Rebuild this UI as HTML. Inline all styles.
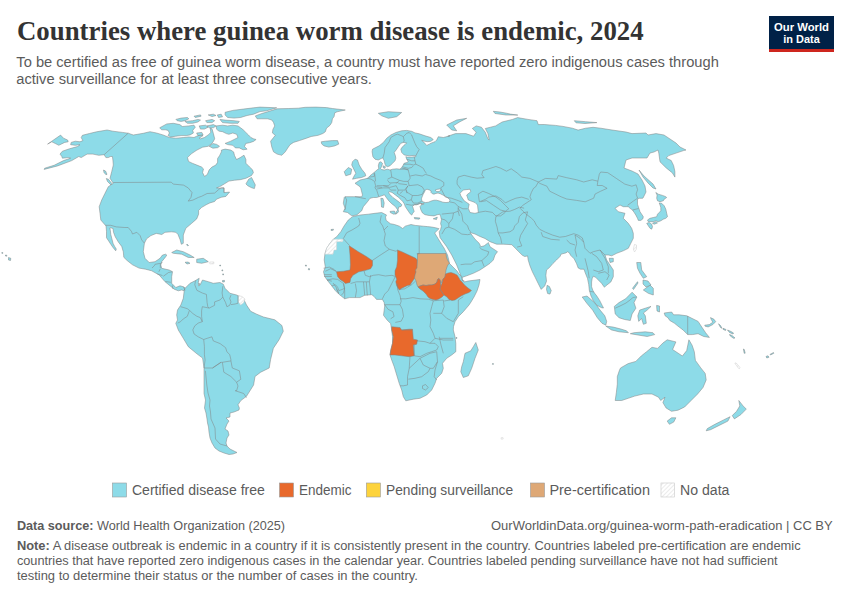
<!DOCTYPE html>
<html><head><meta charset="utf-8"><style>
html,body{margin:0;padding:0;background:#fff;}
body{width:850px;height:600px;overflow:hidden;position:relative;}
svg{position:absolute;left:0;top:0;}
</style></head><body>
<svg width="850" height="600" viewBox="0 0 850 600">
<rect width="850" height="600" fill="#fff"/>
<defs><pattern id="hatch" patternUnits="userSpaceOnUse" width="3" height="3" patternTransform="rotate(45)"><rect width="3" height="3" fill="#fff"/><rect width="1" height="3" fill="#ebebeb"/></pattern></defs>
<g fill="#8ddbe8" stroke="#808080" stroke-width="0.5" stroke-linejoin="round">
<path d="M128.2,133.2 L133.3,135.0 L143.3,133.3 L150.0,131.7 L156.5,133.0 L162.9,134.9 L169.4,137.5 L175.9,138.2 L183.6,137.5 L188.8,136.9 L194.0,137.5 L196.6,136.2 L200.5,134.9 L203.1,135.6 L199.2,138.2 L200.5,138.8 L204.4,137.5 L208.2,134.9 L210.8,132.4 L210.2,127.8 L212.1,129.1 L213.4,133.6 L214.7,138.8 L213.0,142.0 L210.5,144.5 L208.2,146.3 L202.6,147.2 L196.9,150.1 L191.3,153.8 L187.5,157.6 L188.5,161.4 L192.2,163.2 L196.9,165.1 L201.6,167.0 L203.5,168.9 L202.6,172.6 L204.5,176.4 L207.3,174.5 L209.2,169.8 L212.0,167.0 L215.8,165.1 L217.6,162.3 L217.6,158.5 L219.5,155.7 L221.4,151.9 L221.4,150.1 L225.2,149.1 L230.8,150.1 L233.6,151.9 L234.6,155.7 L236.5,159.5 L240.2,157.6 L244.0,155.2 L245.9,159.5 L245.9,163.2 L249.6,167.0 L252.5,169.8 L253.4,172.6 L251.5,175.5 L245.9,178.3 L240.2,179.7 L234.6,180.2 L228.9,181.1 L224.2,184.0 L219.5,186.8 L216.5,187.9 L221.0,188.5 L224.0,187.9 L224.0,192.6 L229.6,192.1 L225.9,196.4 L221.2,197.3 L216.5,199.2 L214.6,201.5 L209.9,202.9 L206.1,204.8 L201.4,207.6 L198.6,210.5 L198.6,214.2 L196.7,218.9 L191.7,223.3 L185.8,228.3 L183.3,235.0 L183.3,243.3 L181.3,244.3 L180.2,239.9 L178.0,234.5 L175.8,232.3 L171.5,231.8 L165.0,232.3 L161.8,234.5 L156.3,233.4 L150.9,235.6 L146.6,238.8 L144.4,243.2 L143.3,251.7 L145.0,258.3 L149.2,262.5 L155.0,261.7 L160.0,258.3 L162.5,255.0 L165.8,254.2 L166.7,255.0 L165.8,256.7 L161.7,261.7 L160.8,265.0 L161.7,268.3 L169.2,270.0 L172.5,271.7 L171.7,276.7 L171.7,283.3 L175.8,287.5 L180.0,285.8 L183.3,286.7 L185.5,288.3 L184.2,290.8 L181.7,290.0 L178.3,290.8 L174.2,289.2 L170.0,285.8 L165.0,281.7 L159.2,275.0 L151.7,270.8 L145.5,269.2 L139.0,268.1 L132.5,264.8 L127.1,260.5 L123.8,257.3 L123.3,251.8 L121.7,246.4 L118.4,242.1 L115.2,236.7 L113.5,232.3 L113.0,228.5 L110.8,227.8 L109.8,228.0 L110.3,230.2 L110.8,234.5 L111.9,238.8 L113.0,243.2 L114.6,246.4 L116.3,249.1 L115.7,250.8 L113.0,247.5 L110.8,244.3 L108.7,241.0 L106.5,237.8 L106.5,231.3 L106.0,225.8 L105.4,225.3 L100.8,220.0 L100.0,213.3 L99.2,206.7 L101.7,200.0 L105.0,193.3 L108.3,186.7 L113.3,183.3 L110.0,178.3 L111.7,171.7 L113.3,165.0 L112.9,160.0 L112.4,156.5 L110.6,156.5 L108.2,157.6 L105.9,157.6 L104.1,154.7 L98.8,155.3 L92.9,154.1 L87.1,154.1 L81.2,157.6 L78.8,156.5 L71.8,160.6 L57.6,165.9 L44.1,169.4 L44.7,168.2 L54.1,165.3 L63.5,160.6 L70.6,158.2 L68.2,157.6 L62.4,158.2 L61.8,156.5 L60.0,154.1 L62.4,151.2 L69.4,148.8 L77.6,146.5 L80.0,144.7 L75.3,145.3 L70.6,144.7 L71.2,142.4 L75.3,141.2 L80.0,141.8 L82.9,140.6 L81.2,137.6 L82.4,135.3 L89.4,133.5 L96.5,131.8 L107.1,130.0 L112.9,131.2 L122.4,132.4 Z"/>
<path d="M47.6,144.1 L51.8,141.2 L60.6,135.1 L63.5,138.2 L67.6,140.0 L68.2,141.8 L64.7,142.4 L58.8,145.3 L55.3,143.5 L51.8,141.8 Z"/>
<path d="M255.3,115.9 L261.8,113.5 L267.6,111.8 L277.1,108.8 L288.8,108.5 L298.2,108.2 L305.3,107.3 L315.9,107.1 L326.5,107.6 L332.4,108.5 L345.3,110.0 L337.1,111.8 L334.7,112.9 L334.1,116.5 L332.4,118.8 L331.8,122.4 L330.0,125.3 L326.5,128.2 L325.3,131.8 L322.9,133.5 L318.2,135.3 L311.2,136.5 L306.5,138.2 L299.4,140.6 L293.5,142.4 L290.0,144.7 L287.6,148.2 L285.3,151.8 L281.8,155.3 L277.1,154.1 L273.5,151.8 L271.8,147.1 L270.6,141.2 L273.5,137.6 L275.3,135.3 L272.4,132.9 L272.9,129.4 L274.7,125.9 L273.5,122.4 L271.8,120.0 L267.6,118.8 L261.8,118.8 L257.1,118.8 Z"/>
<path d="M321.2,141.8 L325.3,141.2 L332.4,140.6 L337.6,140.6 L338.8,144.1 L334.7,145.9 L328.8,147.1 L324.1,145.9 L321.8,144.1 Z"/>
<path d="M245.9,183.9 L248.7,179.2 L251.5,177.4 L253.4,181.1 L255.3,184.9 L254.4,188.6 L251.5,187.7 L247.8,185.8 Z"/>
<path d="M106.3,178.5 L108.5,179.3 L111.8,183.5 L111.0,185.0 L107.5,181.5 Z"/>
<path d="M103.5,170.0 L105.5,171.0 L107.0,174.3 L106.0,174.8 L104.0,172.5 Z"/>
<path d="M171.7,252.5 L176.7,250.0 L183.3,251.7 L190.0,255.0 L194.2,257.5 L188.3,257.5 L181.7,254.2 L173.3,253.3 Z"/>
<path d="M196.7,259.2 L203.3,258.3 L208.3,261.7 L201.7,263.3 L196.7,262.5 Z"/>
<path d="M185.0,262.3 L188.0,262.0 L190.0,263.3 L187.0,264.0 Z"/>
<path d="M185.0,288.3 L190.0,283.3 L195.0,280.8 L199.2,278.3 L198.3,282.5 L200.0,285.0 L202.5,280.0 L208.3,281.7 L213.3,283.3 L220.0,282.5 L223.3,284.2 L225.0,288.3 L230.0,293.3 L236.7,295.0 L243.3,298.3 L246.5,305.0 L250.7,311.3 L256.7,314.2 L263.5,317.0 L274.8,319.8 L281.9,325.5 L283.3,331.2 L279.1,339.7 L273.4,348.2 L270.6,359.5 L269.2,368.0 L260.7,372.2 L255.0,376.5 L253.6,385.0 L246.5,396.3 L240.8,400.6 L238.0,404.8 L239.4,408.0 L239.0,410.0 L234.0,412.0 L230.0,413.0 L230.0,417.0 L226.0,418.0 L229.0,421.0 L227.0,424.0 L225.0,429.0 L228.0,431.0 L229.0,435.0 L227.0,438.0 L226.0,443.0 L227.0,446.0 L230.0,449.0 L234.0,451.0 L237.0,452.5 L233.0,454.0 L229.0,454.5 L224.0,453.0 L219.0,451.0 L215.0,448.0 L212.0,443.0 L210.0,438.0 L209.0,432.0 L208.5,427.0 L207.5,423.0 L207.0,419.0 L206.0,413.0 L204.5,408.0 L205.5,400.0 L204.0,393.5 L204.0,379.3 L204.0,368.0 L202.6,358.1 L196.9,353.8 L188.3,346.7 L183.3,338.3 L178.3,330.0 L175.8,323.3 L177.5,320.0 L176.7,315.0 L177.5,310.0 L180.8,305.0 L183.3,298.3 L184.2,290.8 Z"/>
<path d="M439.0,228.7 L435.7,227.8 L431.5,227.0 L427.4,226.6 L423.3,226.2 L419.2,225.8 L415.1,225.4 L411.0,224.5 L407.7,225.4 L405.2,226.2 L402.7,228.5 L399.4,226.2 L394.5,224.5 L390.4,223.7 L386.2,220.4 L385.5,217.0 L386.5,215.0 L381.7,212.5 L375.0,213.3 L368.3,214.2 L360.0,215.0 L352.5,216.7 L348.3,220.0 L344.2,225.8 L340.8,231.7 L336.7,236.7 L333.3,239.2 L330.0,243.3 L326.7,248.3 L325.0,253.3 L324.2,260.0 L325.3,267.1 L323.5,271.8 L324.7,276.5 L327.1,280.0 L331.8,285.9 L335.3,290.6 L338.8,294.1 L344.7,298.8 L349.4,297.6 L355.3,297.6 L360.0,297.6 L364.7,295.3 L371.8,294.7 L374.1,296.5 L376.5,299.4 L382.4,299.4 L384.1,302.4 L384.7,305.9 L384.1,310.6 L383.5,315.3 L387.1,320.0 L390.6,323.5 L391.7,330.0 L392.5,336.7 L392.5,343.3 L390.8,350.0 L390.0,355.0 L391.7,360.0 L394.2,366.7 L396.7,375.0 L399.2,383.3 L401.7,390.0 L403.3,396.7 L405.8,400.8 L413.3,399.2 L420.0,398.3 L426.7,395.0 L431.7,390.0 L435.0,383.3 L436.7,378.3 L441.7,373.3 L443.3,368.3 L442.5,363.3 L446.7,358.3 L451.7,355.0 L455.8,351.7 L455.8,343.3 L455.0,336.7 L453.3,330.0 L453.5,326.7 L455.0,321.7 L458.3,316.7 L463.3,311.7 L469.0,305.0 L471.0,302.0 L474.0,297.0 L477.0,291.0 L479.0,285.0 L480.0,279.5 L476.0,280.0 L472.0,280.5 L468.0,281.0 L464.0,282.0 L462.5,279.5 L462.0,277.0 L461.0,276.0 L459.0,274.0 L457.0,271.0 L454.0,268.0 L451.0,265.0 L449.5,263.5 L448.5,259.0 L447.5,255.0 L446.0,252.0 L444.0,248.0 L442.0,245.0 L438.2,238.8 L434.7,233.0 Z"/>
<path d="M475.8,342.5 L478.3,350.0 L475.0,358.3 L471.7,368.3 L468.3,375.8 L463.3,377.5 L460.8,371.7 L461.7,366.7 L463.3,361.7 L465.0,353.3 L470.8,350.8 L473.3,346.7 Z"/>
<path d="M343.3,211.7 L345.0,208.3 L343.3,203.3 L344.2,197.5 L345.0,196.7 L353.3,196.7 L361.7,196.7 L362.5,195.0 L360.8,188.3 L360.0,186.7 L355.0,183.3 L360.0,180.0 L367.5,178.3 L370.0,175.8 L375.0,171.7 L377.5,169.5 L378.8,168.8 L378.3,165.8 L379.2,162.5 L380.8,161.7 L382.5,163.3 L381.7,166.7 L380.4,168.3 L381.7,169.6 L384.2,170.0 L387.5,169.2 L390.0,170.0 L392.5,169.2 L396.7,168.8 L400.0,169.2 L401.7,167.5 L403.3,165.0 L404.2,163.3 L406.7,162.5 L408.3,161.7 L406.7,159.2 L405.8,156.7 L407.5,157.1 L411.7,157.1 L415.8,156.7 L415.8,155.8 L414.2,155.4 L409.2,155.8 L404.2,155.0 L401.7,152.5 L400.8,149.2 L402.5,146.7 L405.0,144.6 L406.7,142.9 L403.3,142.5 L400.8,143.3 L398.3,146.7 L396.7,149.2 L394.2,152.5 L395.4,155.8 L395.8,158.3 L395.0,160.8 L392.5,163.3 L390.0,165.8 L387.5,166.7 L385.8,165.8 L385.0,164.2 L384.2,160.8 L382.9,157.9 L381.7,158.3 L378.3,160.0 L375.0,159.2 L372.9,156.7 L372.1,151.7 L372.5,149.2 L375.8,147.5 L379.2,145.8 L383.3,142.5 L386.7,138.3 L390.8,135.0 L395.8,132.5 L401.7,130.8 L406.7,130.4 L411.7,131.3 L415.0,132.9 L419.2,133.8 L425.0,135.8 L430.8,137.5 L433.3,139.6 L430.8,141.3 L427.5,141.7 L425.0,141.3 L421.7,140.4 L424.2,142.5 L426.7,145.4 L429.2,144.2 L431.7,142.9 L435.0,141.7 L436.7,140.0 L438.3,136.7 L443.3,137.5 L450.0,135.8 L447.8,136.2 L455.5,133.6 L465.9,133.6 L473.6,136.2 L476.2,132.3 L472.3,128.5 L476.2,125.9 L481.4,127.2 L485.3,132.3 L487.9,138.8 L489.2,140.1 L487.9,133.6 L485.3,128.5 L490.5,127.2 L495.6,125.9 L502.1,122.0 L512.5,119.4 L517.6,117.6 L528.0,119.4 L537.0,120.7 L538.3,124.6 L544.2,124.5 L555.5,125.4 L563.0,126.4 L572.4,128.2 L578.1,130.1 L585.6,128.2 L593.1,127.3 L600.7,128.2 L612.0,130.0 L626.0,132.0 L632.0,133.6 L646.0,133.0 L648.0,135.0 L656.0,133.6 L664.0,135.0 L670.0,139.0 L676.0,143.0 L680.0,147.0 L686.0,150.0 L683.5,150.6 L676.1,153.1 L668.7,155.6 L666.2,158.1 L671.2,160.5 L673.6,165.5 L674.9,171.6 L674.9,177.1 L672.4,172.9 L666.2,167.9 L660.0,161.8 L658.8,153.1 L658.0,150.0 L654.0,152.0 L650.0,153.0 L647.0,158.0 L640.0,158.0 L632.0,158.0 L626.0,160.0 L624.0,168.0 L632.0,171.0 L638.0,174.0 L642.0,180.0 L645.0,186.0 L646.0,192.0 L643.0,198.0 L642.5,198.3 L639.2,198.3 L637.5,199.2 L637.5,204.2 L640.0,211.7 L643.3,216.7 L642.9,218.8 L640.8,220.4 L638.3,220.4 L637.5,218.3 L635.8,215.0 L634.2,212.5 L632.5,210.0 L630.0,208.3 L628.3,206.7 L626.7,206.7 L623.3,206.7 L620.0,205.0 L615.0,208.3 L618.3,211.7 L625.0,213.3 L623.3,218.3 L628.3,223.3 L631.7,228.3 L633.3,233.3 L633.3,238.3 L630.8,243.3 L628.3,248.3 L623.3,250.8 L616.7,253.3 L611.7,255.8 L608.3,255.0 L605.0,255.0 L606.7,260.0 L610.0,265.0 L613.3,270.0 L613.3,276.7 L610.8,282.0 L606.2,285.5 L604.4,287.3 L604.0,286.7 L601.5,283.2 L598.0,279.7 L595.7,277.3 L593.3,276.2 L592.2,278.5 L591.6,282.0 L591.6,286.7 L592.8,290.2 L594.5,293.1 L596.8,296.0 L599.8,300.7 L602.1,305.3 L603.5,308.0 L601.5,307.7 L596.8,305.3 L593.3,300.7 L591.0,296.0 L589.3,290.2 L588.7,284.3 L587.5,278.5 L585.2,272.7 L584.0,269.2 L580.5,269.2 L578.2,268.0 L576.5,263.5 L574.1,258.8 L570.6,255.3 L569.4,252.9 L567.6,251.8 L565.9,252.9 L561.2,254.1 L560.0,256.5 L556.5,260.0 L552.9,263.5 L549.4,267.6 L546.5,270.0 L545.9,275.3 L546.5,281.2 L544.7,285.9 L541.2,289.4 L538.2,283.5 L535.3,277.6 L532.4,271.8 L530.0,265.9 L528.2,260.0 L527.6,255.9 L524.7,256.5 L522.4,255.3 L518.8,251.8 L515.3,248.2 L511.8,244.7 L503.3,244.2 L496.7,244.2 L490.0,241.7 L485.0,238.5 L480.0,236.5 L475.0,234.0 L470.0,232.5 L475.0,239.2 L479.2,243.3 L480.8,246.7 L484.2,245.8 L487.5,243.3 L488.3,242.5 L490.0,246.7 L495.0,250.0 L497.5,251.7 L495.0,255.0 L493.3,260.0 L490.0,263.3 L485.0,266.7 L480.0,270.0 L473.3,273.3 L466.7,275.8 L461.7,277.5 L460.0,273.3 L456.7,265.0 L451.7,255.0 L446.7,246.7 L440.0,237.5 L439.2,231.7 L440.6,229.5 L441.4,226.2 L440.6,223.7 L441.4,219.6 L440.6,216.3 L439.8,214.2 L437.3,214.7 L434.0,215.9 L429.1,215.5 L425.0,214.7 L422.5,213.0 L420.8,209.7 L420.0,206.4 L422.5,203.9 L420.8,203.1 L419.2,203.9 L416.7,204.8 L414.2,204.8 L412.6,206.4 L413.4,208.9 L414.2,211.4 L412.6,213.4 L411.8,215.1 L410.1,213.8 L408.5,211.4 L406.8,208.9 L405.2,206.4 L404.4,203.9 L402.7,201.5 L401.1,199.8 L398.6,197.4 L395.3,194.9 L392.0,192.4 L389.1,191.6 L388.7,192.5 L389.5,194.1 L392.8,197.4 L396.1,199.8 L399.4,202.3 L401.9,204.8 L401.1,206.4 L398.6,207.2 L398.2,209.7 L398.6,211.4 L397.5,213.0 L395.7,214.2 L396.5,211.5 L397.8,210.0 L395.3,206.5 L392.0,203.9 L388.7,200.7 L386.2,197.4 L384.5,194.8 L383.0,195.3 L381.7,195.8 L376.7,197.5 L373.3,197.5 L370.0,198.3 L367.5,201.7 L363.3,206.7 L361.7,210.8 L356.7,215.0 L351.7,215.8 L347.5,212.5 Z"/>
<path d="M547.1,285.3 L549.4,286.5 L551.2,290.6 L550.0,294.1 L547.6,293.5 L546.5,289.4 Z"/>
<path d="M355.0,159.2 L357.5,160.0 L359.2,165.0 L361.7,169.2 L365.0,173.3 L365.8,175.8 L361.7,177.5 L356.7,178.3 L352.5,179.2 L354.2,175.8 L355.8,173.3 L354.2,170.0 L351.7,165.0 L352.5,161.7 Z"/>
<path d="M344.2,171.7 L348.3,167.5 L351.7,169.2 L350.8,174.2 L345.8,175.8 Z"/>
<path d="M378.3,113.3 L388.3,111.7 L401.7,112.5 L396.7,116.7 L388.3,118.3 L381.7,115.8 Z"/>
<path d="M446.7,125.0 L456.7,120.0 L466.7,118.3 L460.0,121.7 L453.3,125.8 L456.7,130.8 L451.7,130.0 Z"/>
<path d="M493.3,111.3 L500.0,112.0 L506.5,113.2 L510.3,114.1 L517.8,115.1 L506.0,115.0 L495.0,113.5 Z"/>
<path d="M574.3,120.7 L585.6,121.7 L596.9,122.6 L585.0,123.5 L576.0,122.8 Z"/>
<path d="M639.0,170.0 L644.0,176.0 L653.0,184.0 L656.0,189.0 L653.0,188.0 L648.0,183.0 L643.0,177.0 Z"/>
<path d="M609.2,258.3 L613.3,258.3 L613.3,261.7 L610.0,262.5 Z"/>
<path d="M636.7,262.5 L640.8,262.5 L641.7,270.0 L646.7,276.7 L643.3,278.3 L640.0,273.3 L637.5,268.3 Z"/>
<path d="M643.3,290.0 L650.0,285.0 L653.3,288.3 L653.3,295.0 L648.3,293.3 Z"/>
<path d="M643.0,280.0 L648.0,281.0 L651.0,285.0 L646.0,287.0 L643.0,284.0 Z"/>
<path d="M632.5,288.3 L637.5,281.7 L638.0,283.0 L633.5,289.5 Z"/>
<path d="M582.2,297.0 L587.0,296.0 L594.5,302.6 L600.1,310.1 L604.8,315.8 L606.7,321.4 L605.8,325.2 L602.0,323.3 L597.3,317.7 L592.6,310.1 L587.0,303.5 Z"/>
<path d="M605.8,326.1 L613.3,327.1 L620.8,329.0 L626.5,330.8 L628.4,332.7 L619.0,331.8 L611.4,329.9 Z"/>
<path d="M630.3,333.7 L634.0,332.7 L645.3,331.8 L652.9,332.7 L654.7,334.6 L647.2,336.5 L638.0,335.0 Z"/>
<path d="M614.3,306.4 L619.0,302.6 L625.6,298.8 L632.1,292.2 L636.9,297.0 L634.0,302.6 L635.9,308.2 L632.1,313.9 L630.3,320.5 L624.6,319.5 L619.0,317.7 L615.2,313.9 Z"/>
<path d="M639.7,310.1 L645.3,308.2 L651.0,306.4 L647.2,310.1 L643.4,313.0 L645.3,315.8 L646.3,323.3 L643.4,324.3 L641.6,318.6 L638.7,321.4 L637.8,315.8 Z"/>
<path d="M656.6,305.4 L659.5,306.0 L659.5,312.0 L657.0,311.0 Z"/>
<path d="M664.2,313.0 L671.7,312.0 L673.6,314.8 L679.2,314.8 L686.8,315.8 L698.1,321.4 L701.8,327.1 L705.6,332.7 L709.4,337.4 L703.7,336.5 L698.1,333.7 L692.4,334.6 L687.7,334.6 L683.0,329.9 L679.2,327.1 L674.5,323.3 L669.8,320.5 L667.9,317.7 L665.1,315.8 Z"/>
<path d="M620.6,367.9 L628.2,363.6 L635.8,361.4 L641.2,356.0 L646.6,351.7 L652.0,347.3 L657.5,348.4 L662.9,343.0 L667.2,339.8 L675.9,341.9 L672.6,349.5 L682.4,356.0 L686.7,350.6 L688.9,339.8 L692.1,345.2 L694.3,351.7 L695.4,360.4 L700.8,367.9 L705.2,373.4 L706.2,379.9 L703.0,387.5 L697.6,394.0 L691.1,400.5 L684.6,407.0 L678.0,410.2 L671.5,411.3 L666.1,408.0 L662.9,402.6 L665.0,397.2 L660.7,400.5 L658.5,397.2 L652.0,394.0 L643.4,394.0 L634.7,396.1 L628.2,398.3 L621.7,400.5 L615.2,400.5 L616.3,392.9 L617.3,384.2 L617.3,376.6 L619.5,370.1 Z"/>
<path d="M667.2,421.1 L671.5,417.8 L675.9,417.8 L673.7,422.1 L669.4,424.3 Z"/>
<path d="M738.8,400.5 L743.1,405.9 L746.3,409.1 L740.9,414.6 L734.4,418.9 L732.2,415.6 L736.6,411.3 L739.8,405.9 Z"/>
<path d="M730.1,416.7 L727.9,421.1 L719.2,425.4 L710.6,429.7 L706.2,430.8 L707.3,428.6 L714.9,424.3 L723.6,419.9 Z"/>
<path d="M8.5,257.5 L10.8,258.3 L10.5,260.5 L8.5,260.0 Z"/>
<path d="M380.8,198.3 L383.0,198.5 L384.2,203.0 L383.5,207.5 L381.5,207.0 L381.2,202.0 Z"/>
<path d="M390.0,211.4 L394.5,211.0 L395.7,213.8 L393.7,214.2 L390.4,212.6 Z"/>
<path d="M414.2,217.5 L420.0,218.0 L419.2,219.2 L414.7,218.8 Z"/>
<path d="M433.2,218.8 L437.3,217.1 L436.5,219.6 Z"/>
<path d="M159.7,127.8 L166.8,123.9 L173.3,123.3 L179.8,124.6 L182.4,126.5 L188.8,125.9 L194.0,125.2 L195.3,127.2 L192.7,130.4 L193.4,133.0 L190.1,134.9 L186.2,135.6 L181.1,135.6 L175.9,136.2 L170.7,136.9 L168.1,135.6 L169.4,133.0 L168.1,130.4 L165.5,129.8 L161.6,129.8 Z"/>
<path d="M216.0,125.9 L222.5,125.2 L227.6,125.9 L232.8,125.2 L238.0,125.9 L240.6,127.8 L243.2,129.8 L245.8,132.4 L248.4,134.9 L250.9,137.5 L253.5,138.8 L256.1,139.5 L253.5,141.4 L249.7,142.7 L245.8,143.4 L244.5,146.6 L247.1,149.2 L243.2,149.8 L239.3,147.9 L235.4,147.9 L232.8,145.3 L227.6,144.6 L225.1,143.4 L230.2,141.4 L234.1,139.5 L238.0,137.5 L236.7,134.3 L232.8,133.0 L228.9,134.3 L226.4,133.6 L222.5,131.7 L218.6,131.1 L216.6,129.1 Z"/>
<path d="M209.2,146.3 L212.9,143.5 L216.7,144.4 L219.5,146.3 L217.6,147.7 L212.9,148.2 Z"/>
<path d="M175.9,119.4 L181.1,118.1 L187.5,117.5 L188.8,118.8 L184.9,120.7 L181.1,121.4 L177.2,120.7 Z"/>
<path d="M184.9,121.4 L192.7,120.7 L197.9,119.4 L200.5,120.1 L197.9,122.0 L192.7,123.3 L187.5,123.3 Z"/>
<path d="M194.0,116.2 L200.5,114.9 L201.1,116.2 L195.3,117.5 Z"/>
<path d="M205.6,120.7 L212.1,119.4 L214.7,120.7 L212.1,122.6 L206.9,122.6 Z"/>
<path d="M208.2,114.9 L213.4,114.2 L216.0,115.5 L212.1,116.6 Z"/>
<path d="M217.3,114.9 L221.2,114.2 L222.5,116.8 L218.6,117.5 Z"/>
<path d="M219.9,119.4 L225.1,120.1 L234.1,120.7 L239.3,121.4 L238.0,123.3 L230.2,123.3 L222.5,122.6 Z"/>
<path d="M225.1,112.3 L232.8,110.4 L243.2,109.1 L253.5,107.8 L260.0,107.1 L276.7,107.8 L266.7,110.8 L260.0,111.6 L253.5,114.2 L247.1,115.5 L240.6,117.5 L234.1,118.1 L227.6,117.5 L225.1,114.9 Z"/>
<path d="M199.2,125.9 L205.6,125.2 L208.2,127.2 L204.4,129.1 L200.5,129.1 Z"/>
<path d="M206.9,125.9 L213.4,124.6 L216.0,125.9 L213.4,127.8 L209.5,127.8 Z"/>
<path d="M196.6,133.0 L201.8,132.4 L203.1,134.9 L197.9,135.6 Z"/>
<path d="M383.3,165.8 L385.4,166.7 L385.0,168.3 L383.3,167.9 Z"/>
<path d="M655.8,192.5 L658.3,194.2 L662.5,195.4 L665.8,196.7 L666.7,197.5 L664.2,199.2 L663.3,200.8 L660.0,201.7 L657.5,200.8 L656.7,198.3 L657.1,195.0 Z"/>
<path d="M659.2,202.9 L661.7,203.3 L664.2,205.8 L665.8,209.2 L666.7,213.3 L667.5,216.7 L665.8,218.3 L663.3,219.2 L660.8,220.8 L658.3,221.7 L655.8,220.8 L653.3,221.7 L650.8,221.7 L648.3,221.7 L647.5,220.0 L650.0,218.3 L653.3,217.5 L656.7,216.7 L657.5,214.2 L659.2,212.5 L660.8,210.8 L660.8,207.5 L660.0,205.0 Z"/>
<path d="M646.7,223.3 L649.2,222.5 L651.7,224.2 L652.5,226.7 L651.7,229.2 L650.0,228.3 L648.3,225.8 Z"/>
<path d="M652.5,223.3 L655.8,221.7 L657.5,222.9 L654.2,224.2 Z"/>
<path d="M704.7,325.2 L709.3,324.6 L712.8,322.2 L711.1,319.3 L710.5,317.6 L714.0,319.3 L715.7,321.7 L712.8,324.6 L708.2,326.9 L705.2,326.3 Z"/>
<path d="M718.5,323.8 L720.5,325.5 L722.0,328.3 L720.5,327.5 Z"/>
<path d="M723.0,328.3 L726.0,329.5 L725.5,330.5 L723.0,329.3 Z"/>
<path d="M727.5,330.0 L731.0,331.5 L733.5,333.0 L733.0,334.0 L729.5,332.5 Z"/>
<path d="M729.5,334.5 L732.0,335.5 L735.0,338.0 L733.5,338.3 L730.3,336.0 Z"/>
<path d="M743.4,349.0 L744.3,349.5 L745.2,353.2 L744.2,353.3 Z"/>
<path d="M766.0,356.5 L768.0,355.8 L769.0,357.2 L766.8,358.0 Z"/>
<path d="M770.0,354.4 L773.5,352.5 L773.8,353.3 L770.5,355.0 Z"/>
<path d="M5.5,255.0 L6.8,255.2 L6.8,256.2 L5.5,256.0 Z"/>
<path d="M1.8,252.5 L2.8,252.6 L2.8,253.4 L1.8,253.3 Z"/>
<path d="M305.5,265.0 L306.5,265.2 L306.3,266.2 L305.4,266.0 Z"/>
<path d="M308.5,268.5 L309.6,268.7 L309.4,270.0 L308.3,269.7 Z"/>
<path d="M331.0,229.5 L333.5,229.2 L333.2,230.3 L331.0,230.4 Z"/>
<path d="M219.8,265.0 L220.6,265.1 L220.5,266.0 L219.7,265.9 Z"/>
<path d="M222.0,269.8 L222.8,270.0 L222.6,271.0 L221.8,270.8 Z"/>
<path d="M222.8,273.8 L223.6,274.0 L223.4,275.0 L222.6,274.8 Z"/>
<path d="M222.5,280.5 L224.5,280.4 L224.3,282.0 L222.6,282.0 Z"/>
<path d="M187.0,244.0 L188.5,245.5 L187.8,246.0 L186.6,244.8 Z"/>
<path d="M456.0,337.5 L457.0,337.6 L456.8,338.5 L455.9,338.3 Z"/>
<path d="M492.5,363.5 L493.5,363.6 L493.3,364.5 L492.4,364.3 Z"/>
</g>
<g fill="#fff" stroke="#808080" stroke-width="0.5">
<path d="M426.0,189.4 L427.6,189.4 L430.0,190.2 L431.2,191.0 L430.8,192.2 L432.4,193.8 L434.0,194.2 L436.0,193.4 L438.0,193.0 L440.4,193.8 L442.8,195.0 L445.2,196.2 L447.6,197.8 L449.6,199.4 L450.0,201.0 L448.8,202.2 L446.0,202.6 L442.8,202.2 L439.6,201.0 L436.4,200.2 L434.0,200.2 L431.2,201.0 L428.4,202.2 L425.6,202.6 L422.8,201.8 L421.6,200.2 L421.6,198.2 L422.4,196.2 L423.2,194.2 L424.4,192.2 L425.2,190.2 Z"/>
<path d="M435.2,190.2 L436.8,189.4 L439.6,189.0 L440.8,190.2 L439.2,191.4 L436.8,191.6 Z"/>
<path d="M420.8,203.5 L424.0,203.4 L423.8,204.3 L421.0,204.3 Z"/>
<path d="M463.3,190.0 L470.0,189.2 L470.8,191.7 L466.7,195.0 L468.3,200.0 L475.0,202.5 L477.5,205.0 L478.3,212.5 L475.0,213.3 L470.0,212.5 L468.3,208.3 L469.2,204.2 L464.2,200.8 L460.8,195.8 L460.0,193.3 Z"/>
<path d="M198.4,283.6 L199.4,283.4 L199.6,285.6 L198.6,285.8 Z"/>
</g>
<g stroke="#808080" stroke-width="0.5" stroke-linejoin="round">
<path fill="#e8692c" d="M349.2,245.8 L358.3,251.7 L366.7,256.7 L372.5,260.8 L372.5,265.5 L370.6,268.8 L364.7,270.6 L358.8,271.8 L352.9,275.3 L350.6,278.8 L350.0,282.4 L345.3,283.5 L342.9,281.2 L340.0,279.4 L337.6,276.5 L336.5,271.8 L343.5,271.2 L350.0,270.0 L350.4,264.7 L350.0,255.0 Z"/>
<path fill="#e8692c" d="M397.5,250.0 L401.7,251.7 L415.8,258.3 L417.2,260.0 L417.2,268.0 L415.7,270.0 L416.2,272.0 L415.2,275.0 L414.7,278.0 L412.0,282.0 L410.0,285.0 L407.5,285.5 L401.7,288.3 L399.2,290.0 L396.7,285.8 L395.8,281.7 L396.7,279.2 L395.0,275.0 L395.0,270.8 L396.7,266.7 L397.5,260.0 L397.5,253.3 Z"/>
<path fill="#dea876" d="M417.5,253.5 L446.0,253.5 L446.5,257.0 L447.5,260.0 L449.5,263.5 L448.0,264.5 L447.0,267.0 L446.0,270.0 L445.5,274.0 L445.0,277.0 L443.0,279.0 L442.0,281.0 L441.0,283.0 L440.0,280.0 L439.0,278.5 L437.5,279.5 L437.0,282.0 L435.0,284.0 L432.0,285.0 L429.0,285.0 L426.0,285.5 L423.0,285.0 L420.0,286.0 L418.0,287.0 L417.0,285.0 L416.0,281.0 L414.5,278.0 L415.0,275.0 L416.0,272.0 L415.5,270.0 L417.0,268.0 L417.5,260.0 Z"/>
<path fill="#e8692c" d="M418.0,287.0 L420.0,286.0 L423.0,285.0 L426.0,285.5 L429.0,285.0 L432.0,285.0 L435.0,284.0 L437.0,282.0 L437.5,279.5 L439.0,278.5 L440.0,280.0 L440.5,283.0 L441.0,286.0 L440.0,289.0 L442.0,292.0 L444.0,295.0 L442.0,297.0 L439.0,299.0 L436.0,300.0 L433.0,299.5 L430.0,298.5 L428.0,297.0 L426.0,294.0 L423.0,291.0 L420.0,289.0 Z"/>
<path fill="#e8692c" d="M441.0,286.0 L442.0,283.0 L443.0,279.0 L445.0,277.0 L445.5,274.0 L448.0,273.0 L451.0,272.5 L454.0,273.5 L457.0,275.0 L459.0,278.0 L460.0,280.0 L462.0,282.0 L464.5,285.0 L468.0,288.0 L471.5,290.5 L469.0,292.5 L465.0,294.0 L461.0,296.0 L458.0,298.0 L455.0,300.0 L452.0,300.5 L449.0,299.5 L447.0,297.0 L444.0,295.0 L442.0,292.0 L440.0,289.0 Z"/>
<path fill="#e8692c" d="M391.7,326.7 L400.0,327.5 L401.7,330.0 L409.2,329.2 L412.5,329.2 L413.3,339.2 L417.5,340.0 L416.7,344.2 L413.3,345.0 L414.2,355.8 L409.2,356.7 L401.7,355.8 L395.0,355.0 L390.0,355.0 L390.8,350.0 L392.5,343.3 L393.3,336.7 L391.7,330.0 Z"/>
<path fill="url(#hatch)" stroke="#cfcfcf" d="M333.3,239.2 L343.3,239.2 L342.5,241.7 L336.7,241.7 L336.5,250.0 L334.0,250.0 L333.0,254.2 L325.0,254.2 L326.7,248.3 L330.0,243.3 Z"/>
<path fill="url(#hatch)" stroke="#cfcfcf" d="M238.5,295.5 L242.0,296.5 L245.0,299.0 L243.5,303.0 L240.5,305.0 L238.5,302.0 Z"/>
<path fill="url(#hatch)" stroke="#cfcfcf" d="M634.5,244.5 L636.5,245.0 L636.5,249.0 L634.5,252.0 L633.3,249.0 Z"/>
<path fill="url(#hatch)" stroke="#cfcfcf" d="M209.8,262.0 L213.8,261.9 L213.8,263.8 L209.8,263.9 Z"/>
<path fill="url(#hatch)" stroke="#cfcfcf" d="M501.0,437.8 L503.0,437.6 L503.2,439.0 L501.2,439.2 Z"/>
<path fill="url(#hatch)" stroke="#cfcfcf" d="M734.8,363.2 L736.0,362.8 L740.0,367.5 L739.5,368.6 L738.5,368.3 Z"/>
</g>
<g fill="none" stroke="#808080" stroke-width="0.5" stroke-linejoin="round">
<path d="M128.2,133.2 L104.1,154.7"/>
<path d="M113.3,182.5 L171.3,182.2 L173.2,184.1 L183.5,185.1 L188.2,187.9 L192.0,192.6 L191.0,197.3 L188.2,201.1 L192.9,200.1 L198.6,197.3 L201.4,196.4 L207.1,193.5 L214.6,193.1 L218.4,189.8 L221.2,187.4 L224.0,187.9 L224.0,192.6"/>
<path d="M105.4,225.3 L110.8,225.3 L116.3,226.9 L124.9,227.5 L128.2,227.5 L131.4,231.3 L132.5,234.0 L136.8,232.3 L140.1,235.6 L141.7,239.9 L144.4,243.2"/>
<path d="M152.0,268.0 L154.3,265.8 L155.0,264.3 L159.5,263.5 L160.3,263.5"/>
<path d="M160.3,268.0 L160.3,263.5 L162.5,262.4"/>
<path d="M158.8,271.8 L160.3,268.8"/>
<path d="M157.3,274.0 L162.5,275.5"/>
<path d="M163.3,276.3 L168.5,272.5 L172.3,271.8"/>
<path d="M165.5,281.5 L170.8,282.3"/>
<path d="M172.3,285.3 L173.0,289.0"/>
<path d="M183.5,286.8 L185.0,290.5"/>
<path d="M195.5,280.7 L194.8,284.8 L196.9,290.3 L202.3,293.0 L206.4,294.4 L207.1,302.6 L207.8,306.7 L209.2,308.1"/>
<path d="M209.2,308.1 L214.6,305.3 L214.6,301.9 L220.1,299.9 L222.8,297.1"/>
<path d="M222.8,286.2 L222.1,293.0 L222.8,297.1 L225.6,302.6 L226.9,306.7 L229.7,305.3 L231.0,301.9 L229.7,298.5 L231.0,295.1"/>
<path d="M231.0,304.6 L235.1,304.0 L237.9,303.3 L237.9,295.8"/>
<path d="M209.2,308.1 L202.3,306.7 L201.6,310.8 L201.6,316.3 L202.3,321.7 L200.3,317.6 L196.9,316.3 L192.8,313.5 L190.0,310.8 L187.3,308.7 L183.2,307.4 L180.5,306.7"/>
<path d="M189.3,310.8 L187.3,316.3 L183.2,319.0 L180.5,321.7 L177.7,323.1"/>
<path d="M202.3,321.7 L198.2,323.1 L194.8,325.8 L192.8,329.9 L194.1,334.0 L198.2,336.8 L203.7,339.5 L207.8,338.1 L211.9,336.8 L213.3,340.9 L220.1,343.6 L225.6,347.7 L226.9,351.8 L229.7,354.5 L231.0,360.0 L230.9,360.9"/>
<path d="M203.7,339.5 L204.4,346.3 L204.4,354.5 L205.1,360.0 L204.0,368.0"/>
<path d="M204.0,368.0 L212.5,368.0 L221.0,362.3 L222.4,362.3 L230.9,360.9"/>
<path d="M205.4,370.8 L206.8,385.0 L208.0,393.0 L210.0,400.0 L209.5,406.0 L210.5,412.0 L211.0,419.0 L215.0,428.0 L215.5,439.0 L220.0,444.0 L227.0,446.0"/>
<path d="M222.4,362.3 L223.8,372.2 L230.9,376.5 L236.6,382.2 L240.8,379.3 L239.4,370.8 L232.3,368.0 L230.9,360.9"/>
<path d="M236.6,382.2 L238.0,386.0 L236.6,390.7 L235.2,390.7"/>
<path d="M235.2,390.7 L243.7,393.5 L246.5,397.7"/>
<path d="M221.0,362.3 L212.5,368.0"/>
<path d="M358.7,218.0 L360.0,223.3 L358.7,226.0 L352.0,230.0 L346.7,232.7 L343.3,238.7"/>
<path d="M343.3,238.7 L349.3,245.3"/>
<path d="M372.0,260.7 L380.0,255.3 L389.3,249.3"/>
<path d="M389.3,249.3 L385.3,246.0 L384.0,240.7 L385.3,234.0 L384.0,230.0 L382.7,226.0 L380.0,222.0 L381.3,215.3"/>
<path d="M384.0,230.0 L388.0,226.0"/>
<path d="M389.3,249.3 L396.0,251.3 L397.5,250.0"/>
<path d="M419.2,226.5 L419.2,253.8"/>
<path d="M416.7,253.8 L419.2,253.8"/>
<path d="M325.3,271.3 L330.7,268.7 L336.0,271.3"/>
<path d="M364.0,270.7 L365.3,275.3 L369.3,276.7"/>
<path d="M369.3,276.7 L373.3,275.3 L378.7,274.7 L385.3,276.0 L392.0,275.3 L395.3,276.5"/>
<path d="M327.1,280.0 L332.9,278.8 L337.6,279.4 L343.5,283.5 L344.7,288.2 L343.5,292.9 L341.2,295.3"/>
<path d="M333.0,283.0 L336.0,287.0 L338.8,294.1"/>
<path d="M343.5,283.5 L344.7,290.6 L344.7,298.8"/>
<path d="M350.6,283.5 L356.5,281.8 L363.5,281.8 L369.4,281.8"/>
<path d="M355.3,283.5 L356.5,290.6 L355.3,297.6"/>
<path d="M363.5,281.8 L364.1,288.2 L364.7,295.3"/>
<path d="M366.3,282.0 L366.8,289.0 L367.3,295.5"/>
<path d="M369.4,281.8 L370.0,287.1 L370.6,294.7"/>
<path d="M370.6,275.3 L369.4,281.8"/>
<path d="M395.3,276.5 L391.8,283.5 L388.2,290.6 L384.7,294.1 L382.4,298.8"/>
<path d="M397.6,283.5 L397.6,289.4 L400.0,295.3 L401.2,301.2 L400.0,304.7"/>
<path d="M384.7,304.7 L392.9,304.7 L400.0,304.7"/>
<path d="M400.0,289.4 L404.7,288.8 L411.8,284.7 L415.3,281.2"/>
<path d="M400.0,298.8 L405.9,298.8 L412.9,297.6 L420.0,298.8 L428.3,299.2 L433.3,300.8"/>
<path d="M384.7,304.7 L388.2,309.4 L392.9,311.8 L394.1,316.5 L390.6,318.8"/>
<path d="M400.0,304.7 L402.4,309.4 L403.5,316.5 L401.2,321.2 L395.3,322.4"/>
<path d="M433.3,300.8 L431.7,306.7 L430.0,313.3 L430.8,320.0 L430.0,326.7 L433.3,333.3 L435.0,338.3"/>
<path d="M433.3,300.8 L443.3,300.0 L444.2,306.7 L441.7,313.3 L433.3,313.3"/>
<path d="M444.2,301.0 L450.0,300.0"/>
<path d="M458.3,300.0 L458.3,313.3 L453.3,321.7 L446.7,318.3 L441.7,313.3"/>
<path d="M458.3,300.0 L463.3,296.7"/>
<path d="M435.0,338.3 L443.3,340.0 L453.3,340.0"/>
<path d="M401.7,330.0 L412.5,330.0"/>
<path d="M416.7,340.8 L425.0,341.7 L430.0,343.3 L435.0,338.3"/>
<path d="M414.2,345.0 L414.2,355.8 L420.0,356.7 L426.7,353.3 L431.7,351.7 L436.7,350.0 L438.3,346.7 L435.0,343.3 L430.0,343.3"/>
<path d="M410.0,356.7 L409.2,368.3 L407.5,376.7 L407.5,385.0 L403.3,385.8 L400.0,385.8"/>
<path d="M409.2,368.3 L420.0,358.3 L423.3,365.0 L430.0,368.3 L428.3,371.7 L421.7,376.7 L415.0,378.3 L408.3,379.2"/>
<path d="M420.0,358.3 L430.0,353.3 L436.7,351.7 L437.5,361.7 L433.3,368.3 L430.0,368.3"/>
<path d="M437.5,361.7 L435.0,370.0 L434.2,376.7 L436.7,380.0"/>
<path d="M439.2,336.7 L441.0,345.0 L443.3,353.3"/>
<path d="M440.0,338.3 L453.3,338.3"/>
<path d="M422.5,385.8 L425.5,384.5 L428.3,387.5 L425.5,390.0 L422.5,388.5 L422.5,385.8"/>
<path d="M355.0,196.6 L360.4,197.7 L365.8,198.7"/>
<path d="M345.0,196.7 L346.7,200.0 L345.8,205.0 L345.0,210.0"/>
<path d="M366.9,178.2 L371.2,179.2 L374.5,181.4 L375.6,185.7 L375.0,187.9 L376.7,190.1 L377.7,193.3 L378.8,196.6"/>
<path d="M369.1,177.1 L374.0,176.5"/>
<path d="M374.0,173.3 L374.5,176.5"/>
<path d="M374.5,172.7 L375.6,181.4"/>
<path d="M376.7,185.7 L383.2,185.7 L388.6,185.7 L390.7,183.6"/>
<path d="M387.5,179.2 L391.8,177.1 L399.4,180.3 L396.2,183.6"/>
<path d="M390.7,170.0 L391.3,173.8 L391.8,177.1"/>
<path d="M399.4,180.3 L403.7,181.4 L408.1,181.4"/>
<path d="M401.6,167.9 L408.1,169.5 L409.2,173.8 L410.2,178.2 L408.1,181.4"/>
<path d="M387.5,180.3 L389.7,183.0 L398.3,182.5"/>
<path d="M398.3,183.6 L407.0,184.7"/>
<path d="M383.2,185.7 L389.7,187.4 L396.2,185.7"/>
<path d="M396.2,185.7 L398.3,190.1 L404.8,190.1 L408.1,185.7"/>
<path d="M408.1,181.4 L409.2,185.7 L417.8,184.7 L422.2,186.8 L424.3,190.1"/>
<path d="M410.2,176.0 L415.7,174.9 L422.2,176.0 L425.4,174.4 L430.8,176.0 L435.1,178.2 L440.6,180.3 L443.8,182.5 L443.8,185.7 L440.6,187.9"/>
<path d="M403.3,164.2 L410.0,164.2 L413.3,165.0 L415.8,164.2"/>
<path d="M406.7,159.2 L411.7,160.8 L415.0,160.8"/>
<path d="M414.2,156.7 L415.0,160.8 L415.8,164.2 L419.2,165.8 L423.3,168.3 L425.0,171.7 L426.7,173.3"/>
<path d="M402.5,166.7 L405.0,167.5 L408.3,168.3 L411.7,167.5 L413.3,165.8"/>
<path d="M400.0,169.2 L405.0,169.2 L408.3,170.0"/>
<path d="M408.1,185.7 L405.9,189.0 L407.0,192.2 L412.4,195.5 L417.8,195.5 L422.2,194.4 L424.3,190.1"/>
<path d="M412.4,195.5 L411.3,199.8 L413.5,203.1 L417.8,203.1 L422.2,200.9"/>
<path d="M398.3,190.1 L397.2,193.3 L400.5,195.5 L404.8,197.7 L407.0,200.9 L411.3,199.8"/>
<path d="M405.9,190.1 L407.0,193.3"/>
<path d="M402.7,191.2 L400.0,193.5"/>
<path d="M405.9,204.2 L411.3,205.2 L417.8,204.2 L420.0,203.1 L422.2,204.2"/>
<path d="M376.7,189.0 L383.2,187.9 L388.6,187.9 L390.7,190.1 L396.2,190.1"/>
<path d="M375.6,186.8 L382.1,187.4"/>
<path d="M382.9,157.9 L384.2,153.3 L385.0,147.5 L389.2,141.7 L390.8,137.5 L395.0,135.0 L397.5,134.2 L401.7,135.8 L403.3,136.7 L404.2,140.8 L403.3,142.5"/>
<path d="M411.7,135.0 L413.3,139.2 L415.0,143.3 L416.7,146.7 L419.2,149.6 L417.5,152.5 L415.8,155.8"/>
<path d="M403.3,136.7 L406.7,133.3 L409.2,132.5 L410.8,134.2 L411.7,135.0"/>
<path d="M440.6,187.9 L445.3,197.1"/>
<path d="M445.3,197.1 L451.2,198.2 L458.2,200.6 L462.4,202.4"/>
<path d="M449.4,201.8 L454.7,202.9 L458.2,206.5 L462.9,208.8 L467.6,208.8"/>
<path d="M441.8,214.1 L453.5,212.9 L458.2,211.2"/>
<path d="M458.2,206.5 L458.2,211.2 L459.4,215.9"/>
<path d="M457.1,180.6 L458.2,177.1 L464.1,175.3 L471.2,177.1 L477.1,178.2 L484.1,177.6 L481.8,174.7 L482.9,170.6 L488.8,168.8 L495.9,166.5 L500.6,168.2 L506.5,171.2 L511.2,168.8 L517.1,172.9 L521.8,177.1 L529.9,178.4 L538.4,182.0"/>
<path d="M457.1,180.6 L457.1,184.1 L460.6,188.8"/>
<path d="M478.2,194.1 L479.4,201.8 L485.3,199.4 L488.8,197.1 L495.9,195.9 L501.8,199.4 L505.3,202.9 L510.0,200.6 L515.9,198.2 L521.8,197.1 L528.8,199.4"/>
<path d="M478.2,194.1 L482.9,191.2 L488.8,193.5 L495.9,197.1 L500.6,200.6 L505.3,205.3 L508.8,208.8 L505.3,211.2 L500.6,210.0 L493.5,205.3 L486.5,200.6 L480.6,201.8"/>
<path d="M478.2,212.4 L485.3,211.2 L492.4,212.4 L495.9,215.9 L500.6,215.9 L505.3,212.4"/>
<path d="M458.2,208.2 L461.8,214.1 L462.9,221.2 L467.6,225.9 L468.8,229.4 L470.6,231.8"/>
<path d="M453.5,212.9 L452.4,218.8 L448.8,223.5"/>
<path d="M448.8,227.1 L454.7,229.4 L461.8,234.1 L467.6,234.7 L470.6,234.1"/>
<path d="M448.8,223.5 L448.8,227.1"/>
<path d="M441.8,234.1 L445.3,228.2 L448.8,227.1"/>
<path d="M441.2,218.8 L445.3,220.0 L448.8,223.5"/>
<path d="M460.6,264.7 L465.3,264.1 L471.2,264.1 L474.7,261.8 L481.8,260.6 L484.1,266.5"/>
<path d="M481.8,260.6 L487.6,255.3 L488.8,251.8 L485.3,250.6 L481.8,249.4 L479.4,247.1"/>
<path d="M495.9,216.5 L495.3,221.2 L497.1,227.1 L498.2,232.9 L502.9,232.9 L510.0,231.8 L513.5,229.4 L514.7,225.9 L518.2,222.4 L519.4,216.5 L522.9,212.9 L527.6,211.8"/>
<path d="M495.9,216.5 L502.9,211.8 L510.0,211.2 L514.7,209.4 L519.4,207.1 L524.1,208.2"/>
<path d="M498.2,232.9 L500.6,237.6 L501.8,243.5"/>
<path d="M527.6,211.8 L525.3,220.0 L527.6,223.5 L524.1,229.4 L520.6,235.3 L519.4,240.0 L521.8,245.9 L517.1,247.1"/>
<path d="M538.4,182.0 L545.5,178.4 L556.8,179.1 L558.2,175.6 L566.7,177.7 L576.7,179.8 L583.7,182.0 L592.2,179.8 L597.9,181.2 L597.2,185.5 L602.2,185.5 L607.1,188.3 L600.7,191.2 L595.1,194.0 L593.7,198.2 L585.2,201.8 L576.7,200.4 L566.7,199.0 L561.1,196.8 L554.0,193.3 L549.7,191.2 L546.9,186.2 L539.8,183.4 L538.4,182.0"/>
<path d="M597.9,181.2 L599.3,174.2 L600.7,172.0 L607.8,172.7 L616.3,178.4 L624.8,184.1 L631.9,186.2 L636.1,184.8 L637.6,189.7 L636.1,194.0 L637.6,198.2"/>
<path d="M637.6,198.2 L633.3,201.1 L627.6,205.3"/>
<path d="M538.4,182.0 L535.6,186.9 L533.5,188.3 L531.3,192.6 L529.9,196.8 L531.3,199.7 L527.1,202.5 L522.8,205.3 L520.0,208.2 L522.8,211.0 L525.7,213.8 L531.3,218.1 L534.2,220.9 L536.3,225.2 L539.8,229.4 L545.5,232.2 L552.6,235.1 L559.7,237.2 L565.3,236.5 L573.8,233.7 L578.1,235.1 L582.3,237.9 L583.7,242.2"/>
<path d="M541.2,232.2 L542.7,236.5 L551.2,239.3 L559.7,240.0"/>
<path d="M583.7,242.2 L580.0,238.3 L575.0,235.0"/>
<path d="M575.0,235.0 L576.7,243.3 L575.0,250.0 L576.7,256.7"/>
<path d="M566.7,240.0 L570.0,243.3 L575.0,245.0"/>
<path d="M585.0,248.3 L590.0,253.3 L593.3,251.7 L600.0,250.0 L605.0,255.0"/>
<path d="M583.7,242.2 L585.0,248.3"/>
<path d="M585.0,258.3 L586.7,265.0 L588.3,271.7 L589.2,278.3"/>
<path d="M591.7,253.3 L596.7,256.7 L601.7,263.3 L603.3,270.0 L598.3,271.7 L593.3,270.0"/>
<path d="M600.0,250.0 L605.0,258.3 L608.3,266.7 L608.3,273.3"/>
<path d="M598.3,273.3 L605.0,271.7 L609.2,275.0 L606.7,280.0"/>
<path d="M687.7,316.0 L687.7,334.6"/>
<path d="M615.2,308.2 L620.0,306.0 L626.0,303.0 L630.0,300.0 L633.0,297.5 L636.5,297.0"/>
<path d="M323.5,268.2 L329.4,267.1 L334.1,269.4 L336.5,271.8"/>
<path d="M324.1,274.7 L331.8,274.7"/>
<path d="M324.1,276.5 L331.8,276.5"/>
<path d="M327.1,280.0 L331.8,281.2"/>
<path d="M331.8,285.9 L335.3,284.7 L337.6,287.1 L338.8,290.6"/>
<path d="M338.8,290.6 L342.4,289.4 L344.7,288.2"/>
<path d="M336.5,289.4 L338.8,292.9"/>
<path d="M589.6,291.2 L593.6,292.0"/>
<path d="M461.7,278.3 L462.2,280.5 L464.5,281.0"/>
<path d="M632.5,210.0 L638.5,208.5"/>
</g>
<g font-family="Liberation Serif, serif" font-weight="bold" fill="#333">
<text x="17" y="40.4" font-size="27.5" textLength="626.6" lengthAdjust="spacingAndGlyphs">Countries where guinea worm disease is endemic, 2024</text>
</g>
<g font-family="Liberation Sans, sans-serif" fill="#5b5b5b" font-size="14">
<text x="16.3" y="66.8" textLength="702.5" lengthAdjust="spacingAndGlyphs">To be certified as free of guinea worm disease, a country must have reported zero indigenous cases through</text>
<text x="16.3" y="84.4" textLength="355.5" lengthAdjust="spacingAndGlyphs">active surveillance for at least three consecutive years.</text>
</g>
<g>
<rect x="769" y="16" width="65" height="36" fill="#002147"/>
<rect x="769" y="49" width="65" height="3" fill="#ce261e"/>
<g font-family="Liberation Sans, sans-serif" font-weight="bold" fill="#fff" font-size="11.3">
<text x="774" y="30.5" textLength="55" lengthAdjust="spacingAndGlyphs">Our World</text>
<text x="783.3" y="42.8" textLength="36.5" lengthAdjust="spacingAndGlyphs">in Data</text>
</g></g>
<g font-family="Liberation Sans, sans-serif" fill="#5b5b5b" font-size="14">
<rect x="112.5" y="483" width="14" height="14" fill="#8ddbe8" stroke="#9a9a9a" stroke-width="0.6"/>
<text x="131.9" y="495.1" textLength="133" lengthAdjust="spacingAndGlyphs">Certified disease free</text>
<rect x="279.5" y="483" width="14" height="14" fill="#e8692c" stroke="#9a9a9a" stroke-width="0.6"/>
<text x="299" y="495.1" textLength="52.5" lengthAdjust="spacingAndGlyphs">Endemic</text>
<rect x="366.4" y="483" width="14" height="14" fill="#fdd33c" stroke="#9a9a9a" stroke-width="0.6"/>
<text x="386" y="495.1" textLength="127.1" lengthAdjust="spacingAndGlyphs">Pending surveillance</text>
<rect x="530.5" y="483" width="14" height="14" fill="#dea876" stroke="#9a9a9a" stroke-width="0.6"/>
<text x="549.4" y="495.1" textLength="100.6" lengthAdjust="spacingAndGlyphs">Pre-certification</text>
<rect x="661" y="483" width="13.5" height="14" fill="url(#hatch)" stroke="#c8c8c8" stroke-width="0.6"/>
<text x="680" y="495.1" textLength="49.4" lengthAdjust="spacingAndGlyphs">No data</text>
</g>
<g font-family="Liberation Sans, sans-serif" fill="#5b5b5b" font-size="12">
<text x="16.9" y="529.5" textLength="268.2" lengthAdjust="spacingAndGlyphs"><tspan font-weight="bold">Data source:</tspan> World Health Organization (2025)</text>
<text x="491" y="529.5" textLength="341.7" lengthAdjust="spacingAndGlyphs">OurWorldinData.org/guinea-worm-path-eradication | CC BY</text>
<text x="16.9" y="549.6" textLength="783.7" lengthAdjust="spacingAndGlyphs"><tspan font-weight="bold">Note:</tspan> A disease outbreak is endemic in a country if it is consistently present in the country. Countries labeled pre-certification are endemic</text>
<text x="16.9" y="565.3" textLength="760.7" lengthAdjust="spacingAndGlyphs">countries that have reported zero indigenous cases in the calendar year. Countries labeled pending surveillance have not had sufficient</text>
<text x="16.9" y="580.1" textLength="401" lengthAdjust="spacingAndGlyphs">testing to determine their status or the number of cases in the country.</text>
</g>
</svg>
</body></html>
